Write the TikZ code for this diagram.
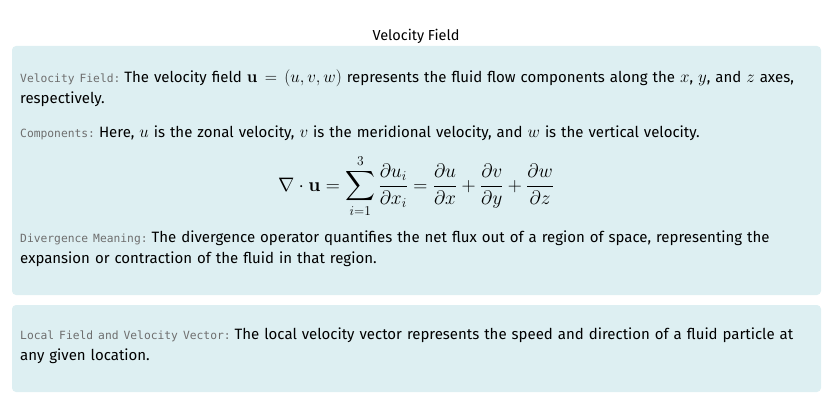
\documentclass[tikz,border=0pt]{standalone}
\usepackage{fix-cm}
\usepackage{amsmath}
\usepackage[no-math]{fontspec}
\setmainfont{Fira Sans}
\setmonofont{DejaVu Sans Mono}
\usepackage{tikz}
\usetikzlibrary{positioning,backgrounds}
\DeclareMathSizes{15}{17}{12}{10}
\DeclareMathSizes{17}{19.5}{13.5}{10}
\definecolor{panelbg}{HTML}{DDEFF2}
\definecolor{tagcol}{HTML}{6E6E6E}
\newcommand{\tagname}[1]{{\ttfamily\fontsize{11.3}{21}\selectfont\color{tagcol}#1}\hspace{4pt}}
\newcommand{\parafont}{\fontsize{15}{21}\selectfont\hyphenpenalty10000\relax}

\begin{document}
\begin{tikzpicture}[x=1pt,y=-1pt]
\tikzstyle{panel}=[draw=none, fill=panelbg, rounded corners=4pt]
\tikzstyle{para}=[anchor=north west, inner sep=0pt, text width=790pt, align=left, font=\parafont]
\tikzstyle{title}=[inner sep=0pt, font=\fontsize{14.5}{17}\selectfont]

  \useasboundingbox (0,0) rectangle (833,420);

  % panels
  \fill[panel] (12,46) rectangle (821,295);
  \fill[panel] (12,305) rectangle (821,392);

  \node[title] (head) at (416,36) {Velocity Field};

  \node[para] (field) at (20,70) {\tagname{Velocity Field:}The velocity field $\mathbf{u} = (u, v, w)$ represents the fluid flow components along the $x$, $y$, and $z$ axes, respectively.};
  \node[para] (comp) at (20,126) {\tagname{Components:}Here, $u$ is the zonal velocity, $v$ is the meridional velocity, and $w$ is the vertical velocity.};
  \node[inner sep=0pt, font=\fontsize{17}{19}\selectfont] (eqn) at (416,186)
    {$\displaystyle \nabla \cdot \mathbf{u} = \sum_{i=1}^{3} \frac{\partial u_i}{\partial x_i} = \frac{\partial u}{\partial x} + \frac{\partial v}{\partial y} + \frac{\partial w}{\partial z}$};
  \node[para] (diverg) at (20,231) {\tagname{Divergence Meaning:}The divergence operator quantifies the net flux out of a region of space, representing the expansion or contraction of the fluid in that region.};

  \node[para] (local) at (20,328) {\tagname{Local Field and Velocity Vector:}The local velocity vector represents the speed and direction of a fluid particle at any given location.};

\end{tikzpicture}
\end{document}
